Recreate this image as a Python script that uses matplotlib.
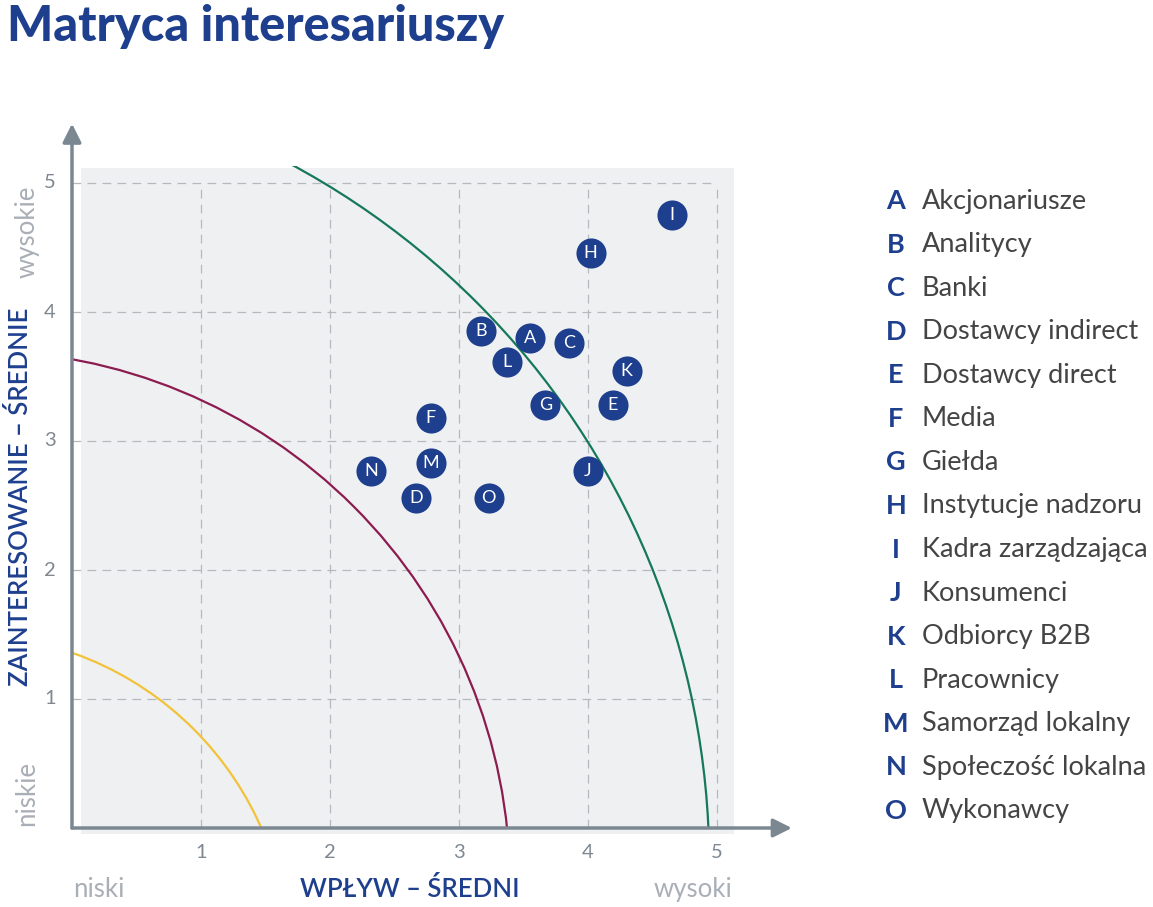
import matplotlib
matplotlib.use("Agg")
from matplotlib import pyplot as plt
from matplotlib.patches import Arc, Rectangle

plt.rcParams['font.family'] = ['Lato', 'DejaVu Sans']

# dane
letters = ['A', 'B', 'C', 'D', 'E', 'F', 'G', 'H', 'I', 'J', 'K', 'L', 'M', 'N', 'O']
names = ['Akcjonariusze', 'Analitycy', 'Banki', 'Dostawcy indirect', 'Dostawcy direct',
         'Media', 'Giełda', 'Instytucje nadzoru', 'Kadra zarządzająca', 'Konsumenci',
         'Odbiorcy B2B', 'Pracownicy', 'Samorząd lokalny', 'Społeczość lokalna', 'Wykonawcy']
wplyw = [3.55, 3.17, 3.85, 2.67, 4.19, 2.78, 3.67, 4.02, 4.65, 4.00, 4.30, 3.37, 2.78, 2.32, 3.23]
zaint = [3.80, 3.85, 3.76, 2.56, 3.28, 3.18, 3.28, 4.46, 4.75, 2.77, 3.54, 3.61, 2.83, 2.77, 2.56]
ticks = [1, 2, 3, 4, 5]
# progi: (srodek x, srodek y, promien, kolor)
progi = [(-0.83, -1.01, 2.51, '#f2c23a'),
         (-0.735, -0.43, 4.13, '#8c1c50'),
         (-1.22, -0.28, 6.16, '#16785a')]

blue = '#1e3f8e'
gray = '#7f8891'
light = '#a9afb6'
axcol = '#7c8891'

fig = plt.figure(figsize=(11.53, 9.07), dpi=100)
ax = fig.add_axes([0, 0, 1, 1])
ax.set_xlim(-72 / 129, (1153 - 72) / 129)
ax.set_ylim(-(907 - 828) / 129, 828 / 129)
ax.axis('off')

# tlo
ax.add_patch(Rectangle((0.07, -0.05), 5.06, 5.17, color='#eff0f2', lw=0, zorder=0))

# siatka
ax.vlines(ticks, 0, 5, colors='#b5b9be', linestyles=(0, (7, 5)), lw=0.9, zorder=1)
ax.hlines(ticks, 0, 5, colors='#b5b9be', linestyles=(0, (7, 5)), lw=0.9, zorder=1)

# luki
clip = Rectangle((0, 0), 5.5, 5.13, transform=ax.transData)
for cx, cy, r, col in progi:
    a = Arc((cx, cy), 2 * r, 2 * r, theta1=0, theta2=90, color=col, lw=1.6, zorder=2)
    ax.add_patch(a)
    a.set_clip_path(clip)

# osie
ax.annotate('', xy=(5.58, 0), xytext=(0, 0),
            arrowprops=dict(arrowstyle='-|>', color=axcol, lw=2.5, mutation_scale=28,
                            shrinkA=0, shrinkB=0), zorder=3)
ax.annotate('', xy=(0, 5.46), xytext=(0, 0),
            arrowprops=dict(arrowstyle='-|>', color=axcol, lw=2.5, mutation_scale=28,
                            shrinkA=0, shrinkB=0), zorder=3)

for t in ticks:
    ax.text(t, -0.19, str(t), ha='center', va='center', fontsize=14.5, color=gray)
    ax.text(-0.17, t, str(t), ha='center', va='center', fontsize=14.5, color=gray)

ax.text(0.21, -0.48, 'niski', ha='center', va='center', fontsize=18.5, color=light)
ax.text(4.81, -0.48, 'wysoki', ha='center', va='center', fontsize=18.5, color=light)
ax.text(2.62, -0.48, 'WPŁYW – ŚREDNI', ha='center', va='center', fontsize=18.5,
        color=blue, fontweight='semibold')
ax.text(-0.40, 2.57, 'ZAINTERESOWANIE – ŚREDNIE', ha='center', va='center', fontsize=18.5,
        color=blue, fontweight='semibold', rotation=90)
ax.text(-0.35, 4.62, 'wysokie', ha='center', va='center', fontsize=18.5, color=light, rotation=90)
ax.text(-0.35, 0.27, 'niskie', ha='center', va='center', fontsize=18.5, color=light, rotation=90)

# punkty
ax.scatter(wplyw, zaint, s=470, c=blue, lw=0, zorder=5)
for l, x, y in zip(letters, wplyw, zaint):
    ax.text(x, y, l, ha='center', va='center', fontsize=13, color='white', zorder=6)

# tytul
fig.text(0.006, 0.955, 'Matryca interesariuszy', fontsize=35, fontweight='black',
         color=blue, ha='left', va='baseline')

# legenda
for i, (l, n) in enumerate(zip(letters, names)):
    yy = 1 - (201 + i * 43.57) / 907
    fig.text(896 / 1153, yy, l, ha='center', va='center', fontsize=19.5,
             fontweight='bold', color=blue)
    fig.text(922 / 1153, yy, n, ha='left', va='center', fontsize=19.5, color='#444444')

fig.savefig('out.png', dpi=100)
